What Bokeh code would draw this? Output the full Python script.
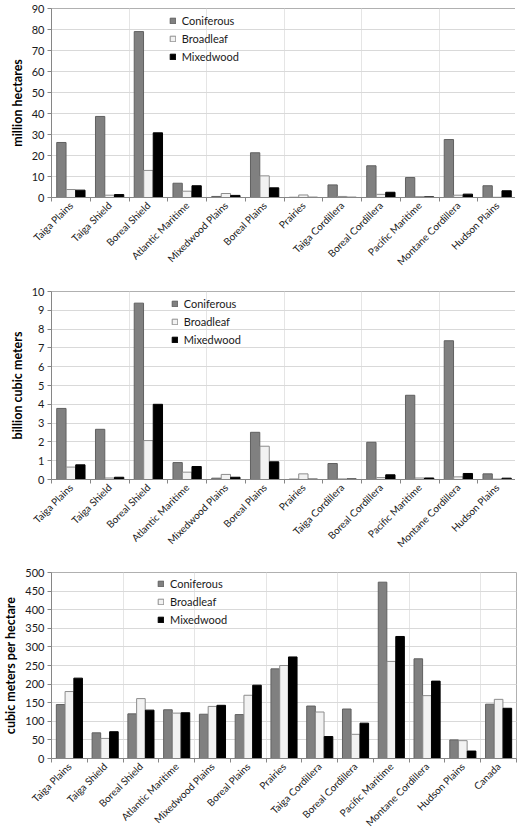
import math
from bokeh.plotting import figure
from bokeh.layouts import column
from bokeh.models import (Range1d, LinearAxis, FixedTicker,
                          Legend, LegendItem, ColumnDataSource, Grid)
from bokeh.transform import dodge
from bokeh.embed import file_html
from bokeh.resources import INLINE

# ---------------- data ----------------
ecozones = ["Taiga Plains", "Taiga Shield", "Boreal Shield", "Atlantic Maritime",
            "Mixedwood Plains", "Boreal Plains", "Prairies", "Taiga Cordillera",
            "Boreal Cordillera", "Pacific Maritime", "Montane Cordillera", "Hudson Plains"]
ecozones_canada = ecozones + ["Canada"]
series_names = ["Coniferous", "Broadleaf", "Mixedwood"]

# million hectares
area_coniferous = [26.2, 38.6, 79.0, 6.8, 0.5, 21.3, 0.1, 6.0, 15.1, 9.5, 27.6, 5.6]
area_broadleaf = [3.8, 1.1, 12.9, 3.0, 1.9, 10.3, 1.2, 0.5, 1.5, 0.4, 1.1, 0.1]
area_mixedwood = [3.5, 1.4, 30.8, 5.6, 1.0, 4.6, 0.1, 0.1, 2.5, 0.3, 1.6, 3.2]

# billion cubic meters
vol_coniferous = [3.78, 2.67, 9.38, 0.90, 0.07, 2.51, 0.02, 0.85, 1.98, 4.48, 7.38, 0.30]
vol_broadleaf = [0.66, 0.08, 2.07, 0.39, 0.27, 1.77, 0.30, 0.03, 0.10, 0.08, 0.14, 0.02]
vol_mixedwood = [0.78, 0.12, 4.00, 0.69, 0.12, 0.94, 0.02, 0.03, 0.25, 0.08, 0.32, 0.07]

# cubic meters per hectare
dens_coniferous = [145, 69, 120, 131, 119, 118, 241, 141, 133, 474, 268, 50, 146]
dens_broadleaf = [180, 54, 161, 122, 140, 170, 250, 125, 65, 261, 169, 48, 159]
dens_mixedwood = [216, 72, 130, 123, 143, 197, 273, 59, 95, 328, 208, 20, 135]

area_ticks = [0, 10, 20, 30, 40, 50, 60, 70, 80, 90]
vol_ticks = [0, 1, 2, 3, 4, 5, 6, 7, 8, 9, 10]
dens_ticks = [0, 50, 100, 150, 200, 250, 300, 350, 400, 450, 500]

# ---------------- styling ----------------
FONT = "Lato"
AXIS_GRAY = "#868686"
TEXT = "#1a1a1a"
FILLS = ["#808080", "#f2f2f2", "#000000"]
LINES = ["#606060", "#8c8c8c", "#000000"]
BAR_W = 0.24
OFFS = [-0.245, 0.0, 0.245]
FRAME_W = 465


def make_chart(cats, c, b, m, ticks, ylabel, top, frame_h, bottom, legend_xy):
    n = len(cats)
    centers = [i + 0.5 for i in range(n)]
    bounds = list(range(n + 1))
    src = ColumnDataSource(dict(x=centers, cat=cats, c=c, b=b, m=m))
    p = figure(x_range=Range1d(0, n), y_range=Range1d(ticks[0], ticks[-1]),
               frame_width=FRAME_W, frame_height=frame_h,
               output_backend="svg", toolbar_location=None,
               x_axis_location=None, y_axis_location=None,
               min_border_left=48, min_border_right=2,
               min_border_top=top, min_border_bottom=bottom)
    p.outline_line_color = "#b0b0b0"
    p.background_fill_color = "white"
    p.border_fill_color = "white"
    p.add_layout(Grid(dimension=1, ticker=FixedTicker(ticks=ticks),
                      grid_line_color="#d9d9d9", grid_line_width=1))

    rends = []
    for key, off, fc, lc in zip(["c", "b", "m"], OFFS, FILLS, LINES):
        r = p.vbar(x=dodge("x", off), top=key, width=BAR_W,
                   source=src, fill_color=fc, line_color=lc, line_width=1)
        rends.append(r)

    yaxis = LinearAxis(ticker=FixedTicker(ticks=ticks),
                       axis_label=ylabel,
                       axis_label_text_font=FONT, axis_label_text_font_style="bold",
                       axis_label_text_font_size="12.5px", axis_label_text_color="#000000",
                       axis_label_standoff=4,
                       major_label_text_font=FONT, major_label_text_font_size="11px",
                       major_label_text_color=TEXT, major_label_standoff=3,
                       axis_line_color=AXIS_GRAY, major_tick_line_color=AXIS_GRAY,
                       major_tick_in=0, major_tick_out=4, minor_tick_line_color=None)
    p.add_layout(yaxis, "left")

    xaxis = LinearAxis(ticker=FixedTicker(ticks=centers, minor_ticks=bounds),
                       major_label_overrides={x: name for x, name in zip(centers, cats)},
                       major_label_orientation=math.pi / 4,
                       major_label_text_font=FONT, major_label_text_font_size="10px",
                       major_label_text_color=TEXT, major_label_standoff=2,
                       axis_line_color=AXIS_GRAY,
                       major_tick_line_color=None, major_tick_in=0, major_tick_out=4,
                       minor_tick_line_color=AXIS_GRAY, minor_tick_in=0, minor_tick_out=4)
    p.add_layout(xaxis, "below")

    legend = Legend(items=[LegendItem(label=nm, renderers=[r]) for nm, r in zip(series_names, rends)],
                    location=legend_xy, orientation="vertical",
                    background_fill_alpha=0, border_line_color=None,
                    padding=0, margin=0, spacing=4, label_height=14,
                    glyph_height=7, glyph_width=7, label_standoff=6,
                    label_text_font=FONT, label_text_font_size="11px",
                    label_text_color=TEXT)
    p.add_layout(legend)
    return p


p1 = make_chart(ecozones, area_coniferous, area_broadleaf, area_mixedwood, area_ticks,
                "million hectares", 8, 189, 85, (122, 134))
p2 = make_chart(ecozones, vol_coniferous, vol_broadleaf, vol_mixedwood, vol_ticks,
                "billion cubic meters", 9, 188, 83, (124, 133))
p3 = make_chart(ecozones_canada, dens_coniferous, dens_broadleaf, dens_mixedwood, dens_ticks,
                "cubic meters per hectare", 10, 186, 69, (106, 132))

layout = column(p1, p2, p3, spacing=0)
open("out.html", "w").write(file_html(layout, INLINE))
